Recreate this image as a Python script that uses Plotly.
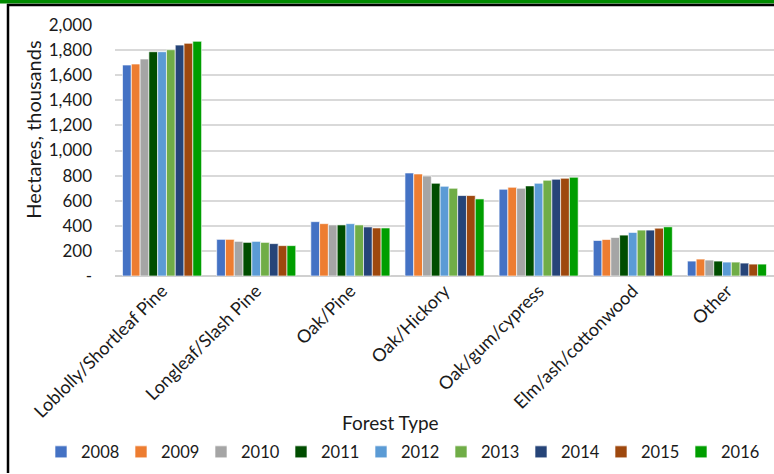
import plotly.graph_objects as go

# Forest area by type and inventory year (thousand hectares)
forest_types = ["Loblolly/Shortleaf Pine", "Longleaf/Slash Pine", "Oak/Pine",
                "Oak/Hickory", "Oak/gum/cypress", "Elm/ash/cottonwood", "Other"]
years = ["2008", "2009", "2010", "2011", "2012", "2013", "2014", "2015", "2016"]

area_2008 = [1681, 292, 433, 821, 691, 283, 119]
area_2009 = [1689, 292, 417, 813, 707, 291, 135]
area_2010 = [1729, 276, 407, 797, 699, 307, 127]
area_2011 = [1787, 268, 407, 739, 718, 326, 119]
area_2012 = [1787, 276, 417, 715, 739, 347, 111]
area_2013 = [1803, 268, 407, 699, 763, 366, 111]
area_2014 = [1840, 258, 391, 641, 771, 366, 103]
area_2015 = [1854, 242, 383, 641, 779, 381, 95]
area_2016 = [1870, 242, 383, 614, 787, 392, 95]

series = [area_2008, area_2009, area_2010, area_2011, area_2012,
          area_2013, area_2014, area_2015, area_2016]
colors = ["#4472C4", "#ED7D31", "#A5A5A5", "#004D00", "#5B9BD5",
          "#70AD47", "#264478", "#9E480E", "#009E00"]

y_ticks = [0, 200, 400, 600, 800, 1000, 1200, 1400, 1600, 1800, 2000]
y_tick_text = ["-", "200", "400", "600", "800", "1,000", "1,200",
               "1,400", "1,600", "1,800", "2,000"]

FONT = "Lato, Calibri, 'Open Sans', sans-serif"
TEXT = "#1a1a1a"

fig = go.Figure()
for yr, vals, col in zip(years, series, colors):
    fig.add_trace(go.Bar(
        name=yr, x=forest_types, y=vals,
        marker=dict(color=col, line=dict(color="rgba(255,255,255,0.8)", width=0.8)),
    ))

W, H = 774, 474
L, R, T, B = 115, 0, 25, 197.5
pw, ph = W - L - R, H - T - B


def px(x):
    return (x - L) / pw


def py(y):
    return (H - B - y) / ph


fig.update_layout(
    width=W, height=H,
    margin=dict(l=L, r=R, t=T, b=B, pad=0, autoexpand=False),
    paper_bgcolor="white", plot_bgcolor="white",
    barmode="group", bargap=0.16, bargroupgap=0.0,
    font=dict(family=FONT, color=TEXT, size=16),
    showlegend=True,
    legend=dict(
        orientation="h", x=px(41), xanchor="left", y=py(453), yanchor="middle",
        font=dict(family=FONT, size=16.5, color=TEXT),
        itemwidth=30, entrywidth=35, entrywidthmode="pixels",
        traceorder="normal", bgcolor="rgba(0,0,0,0)",
    ),
    xaxis=dict(
        range=[-0.5, 6.5], tickangle=-45, showgrid=False, showline=False,
        ticks="", tickfont=dict(family=FONT, size=18, color=TEXT),
        zeroline=False,
    ),
    yaxis=dict(
        range=[0, 2000], tickvals=y_ticks, ticktext=y_tick_text,
        showgrid=True, gridcolor="#d9d9d9", gridwidth=2,
        zeroline=True, zerolinecolor="#d0d0d0", zerolinewidth=2,
        showline=False, ticks="", ticklabelstandoff=22,
        tickfont=dict(family=FONT, size=17, color=TEXT),
    ),
    annotations=[
        dict(text="Hectares, thousands", xref="paper", yref="paper",
             x=px(33), y=py(130), textangle=-90, showarrow=False,
             xanchor="center", yanchor="middle",
             font=dict(family=FONT, size=20, color=TEXT)),
        dict(text="Forest Type", xref="paper", yref="paper",
             x=px(390), y=py(423), showarrow=False,
             xanchor="center", yanchor="middle",
             font=dict(family=FONT, size=19, color=TEXT)),
    ],
    shapes=[
        # green band and black frame along the top, black frame on the left
        dict(type="rect", xref="paper", yref="paper", x0=px(0), x1=px(W),
             y0=py(3.5), y1=py(0), fillcolor="#008a00", line=dict(width=0), layer="above"),
        dict(type="line", xref="paper", yref="paper", x0=px(7), x1=px(W),
             y0=py(5), y1=py(5), line=dict(color="black", width=2.5), layer="above"),
        dict(type="line", xref="paper", yref="paper", x0=px(8), x1=px(8),
             y0=py(4), y1=py(H), line=dict(color="black", width=2.5), layer="above"),
    ],
)

fig.write_html("out.html")
